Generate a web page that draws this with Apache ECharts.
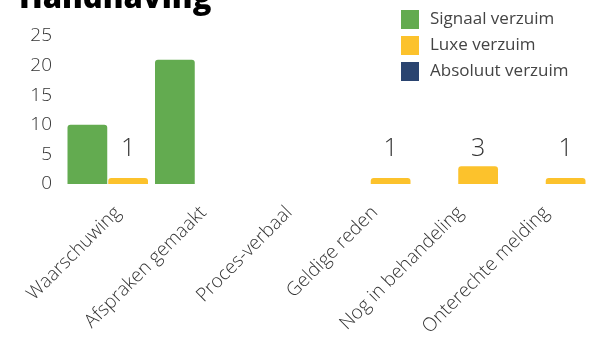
<!DOCTYPE html>
<html>
<head>
<meta charset="utf-8">
<script src="https://cdn.jsdelivr.net/npm/echarts@6/dist/echarts.min.js"></script>
<style>html,body{margin:0;padding:0;background:#fff;}#c{width:589px;height:339px;}</style>
</head>
<body>
<div id="c"></div>
<script>
const categories = ['Waarschuwing', 'Afspraken gemaakt', 'Proces-verbaal', 'Geldige reden', 'Nog in behandeling', 'Onterechte melding'];
const signaal = [10, 21, null, null, null, null];
const luxe = [1, null, null, 1, 3, 1];
const absoluut = [null, null, null, null, null, null];
const yTicks = [0, 5, 10, 15, 20, 25];

const chart = echarts.init(document.getElementById('c'));
const fontFam = '"Open Sans", "Noto Sans", sans-serif';
chart.setOption({
  animation: false,
  title: {
    text: 'Handhaving', left: 14, top: -21,
    textStyle: { fontFamily: fontFam, fontWeight: 800, fontSize: 31, color: '#000' }
  },
  legend: {
    orient: 'vertical', left: 396, top: 5, itemWidth: 18, itemHeight: 19, itemGap: 7,
    icon: 'rect',
    data: ['Signaal verzuim', 'Luxe verzuim', 'Absoluut verzuim'],
    textStyle: { fontFamily: fontFam, fontSize: 17, color: '#444', padding: [0, 0, 0, 6] }
  },
  grid: [
    { left: 64, width: 528, top: 36, bottom: 155, containLabel: false },
    { left: 75, width: 530, top: 36, bottom: 155, containLabel: false }
  ],
  xAxis: [
    {
      type: 'category', data: categories, gridIndex: 0,
      axisLine: { show: false }, axisTick: { show: false }, axisLabel: { show: false }
    },
    {
      type: 'category', data: categories, gridIndex: 1,
      axisLine: { show: false }, axisTick: { show: false },
      axisLabel: { rotate: 45, interval: 0, margin: 26, fontFamily: fontFam, fontWeight: 300, fontSize: 19, color: '#333' }
    }
  ],
  yAxis: [
    {
      type: 'value', min: yTicks[0], max: yTicks[yTicks.length - 1], interval: 5, gridIndex: 0,
      splitLine: { show: false }, axisLine: { show: false }, axisTick: { show: false },
      axisLabel: { margin: 12, fontFamily: fontFam, fontWeight: 300, fontSize: 19, color: '#333' }
    },
    {
      type: 'value', min: yTicks[0], max: yTicks[yTicks.length - 1], interval: 5, gridIndex: 1, show: false
    }
  ],
  series: [
    { name: 'Signaal verzuim', type: 'bar', data: signaal, barGap: '2.5%', barCategoryGap: '8%',
      itemStyle: { color: '#63AB50', borderRadius: [3, 3, 0, 0] } },
    { name: 'Luxe verzuim', type: 'bar', data: luxe, stack: 'b',
      itemStyle: { color: '#FCC22C', borderRadius: [3, 3, 0, 0] },
      label: { show: true, position: 'insideBottom', distance: 23,
        fontFamily: fontFam, fontWeight: 300, fontSize: 25, color: '#333' } },
    { name: 'Absoluut verzuim', type: 'bar', data: absoluut, stack: 'b',
      itemStyle: { color: '#2A4470' } }
  ]
});
</script>
</body>
</html>
